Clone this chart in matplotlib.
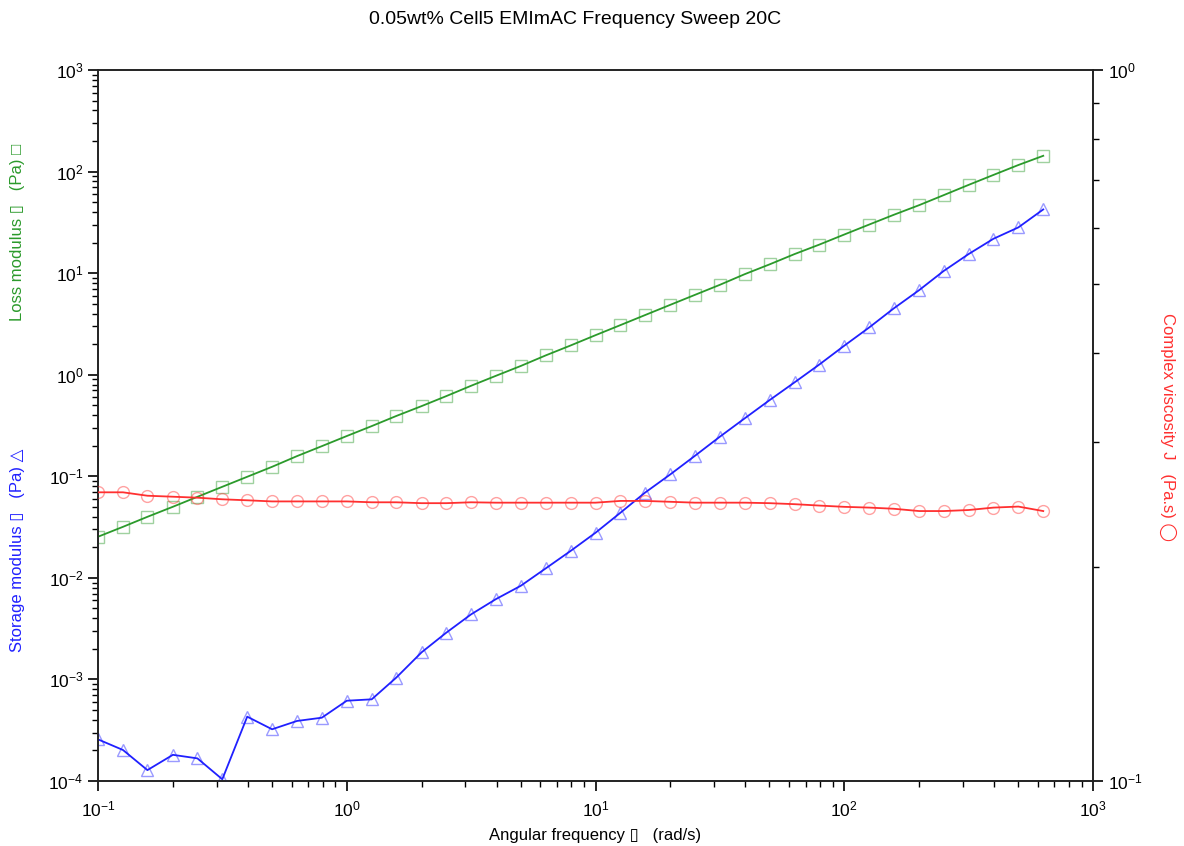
import matplotlib
matplotlib.use("Agg")
import matplotlib.pyplot as plt
from matplotlib.ticker import NullFormatter, LogLocator

plt.rcParams['font.family'] = ['Liberation Sans', 'DejaVu Sans']

# angular frequency (rad/s)
freq = [0.1, 0.126, 0.158, 0.2, 0.251, 0.316, 0.398, 0.501, 0.631, 0.794,
        1.0, 1.26, 1.58, 2.0, 2.51, 3.16, 3.98, 5.01, 6.31, 7.94,
        10.0, 12.6, 15.8, 20.0, 25.1, 31.6, 39.8, 50.1, 63.1, 79.4,
        100.0, 126.0, 158.0, 200.0, 251.0, 316.0, 398.0, 501.0, 631.0]

# loss modulus G'' (Pa)
loss_mod = [0.0254, 0.0318, 0.0399, 0.0501, 0.0628, 0.0788, 0.0989, 0.124, 0.158, 0.198,
            0.249, 0.312, 0.392, 0.491, 0.615, 0.778, 0.976, 1.22, 1.55, 1.94,
            2.45, 3.08, 3.86, 4.88, 6.11, 7.67, 9.77, 12.2, 15.4, 19.1,
            24.0, 30.1, 37.5, 46.7, 58.6, 73.9, 92.7, 116.0, 143.0]

# storage modulus G' (Pa)
storage_mod = [2.57e-4, 2.02e-4, 1.28e-4, 1.81e-4, 1.67e-4, 1.04e-4, 4.3e-4, 3.23e-4, 3.9e-4, 4.2e-4,
               6.17e-4, 6.37e-4, 1.04e-3, 1.85e-3, 2.88e-3, 4.37e-3, 6.18e-3, 8.36e-3, 1.24e-2, 1.84e-2,
               2.78e-2, 4.38e-2, 6.89e-2, 0.1045, 0.159, 0.245, 0.372, 0.562, 0.84, 1.26,
               1.93, 2.92, 4.49, 6.8, 10.5, 15.4, 21.8, 28.2, 42.4]

# complex viscosity (Pa.s)
viscosity = [0.2547, 0.2547, 0.2519, 0.2511, 0.2503, 0.249, 0.2482, 0.2473, 0.2473, 0.2473,
             0.2473, 0.2466, 0.2466, 0.2459, 0.2459, 0.2466, 0.2463, 0.2463, 0.2463, 0.2463,
             0.2463, 0.2477, 0.2477, 0.247, 0.2463, 0.2463, 0.2463, 0.2459, 0.2451, 0.244,
             0.243, 0.2424, 0.2415, 0.2397, 0.2397, 0.2405, 0.2424, 0.2432, 0.2397]

green = '#2b9a2b'
blue = '#2020ff'
red = '#ff3030'

fig = plt.figure(figsize=(11.84, 8.46), dpi=100)
ax = fig.add_axes([98/1184, 1 - 781/846, (1093 - 98)/1184, (781 - 70)/846])
ax2 = ax.twinx()

ax.plot(freq, loss_mod, color=green, lw=1.3, zorder=3)
ax.plot(freq, loss_mod, ls='none', marker='s', ms=8, mfc='none', mec=green, mew=1.0, alpha=0.45, zorder=4)
ax.plot(freq, storage_mod, color=blue, lw=1.3, zorder=3)
ax.plot(freq, storage_mod, ls='none', marker='^', ms=8.5, mfc='none', mec=blue, mew=1.0, alpha=0.45, zorder=4)
ax2.plot(freq, viscosity, color=red, lw=1.3, zorder=3)
ax2.plot(freq, viscosity, ls='none', marker='o', ms=8.5, mfc='none', mec=red, mew=1.0, alpha=0.45, zorder=4)

ax.set_xscale('log')
ax.set_yscale('log')
ax2.set_yscale('log')
ax.set_xlim(0.1, 1000)
ax.set_ylim(1e-4, 1e3)
ax2.set_ylim(0.1, 1)
ax2.yaxis.set_major_locator(LogLocator(base=10))
ax2.yaxis.set_minor_locator(LogLocator(base=10, subs=range(2, 10)))
ax2.yaxis.set_minor_formatter(NullFormatter())
ax.xaxis.set_minor_formatter(NullFormatter())
ax.yaxis.set_minor_formatter(NullFormatter())

for a in (ax, ax2):
    for s in a.spines.values():
        s.set_linewidth(1.2)
        s.set_color('#222222')
    a.tick_params(which='both', direction='out', labelsize=12.5)
    a.tick_params(which='major', length=7, width=1.2)
    a.tick_params(which='minor', length=4, width=1.0)
ax.tick_params(axis='x', top=False, pad=6)
ax.tick_params(axis='y', right=False)
ax2.tick_params(axis='y', right=True, left=False)

fig.text(575/1184, 1 - 20/846, '0.05wt% Cell5 EMImAC Frequency Sweep 20C',
         ha='center', va='center', fontsize=14)
fig.text(595/1184, 1 - 835/846, 'Angular frequency \u25af   (rad/s)', ha='center', va='center', fontsize=12)
fig.text(18/1184, 1 - 232/846, 'Loss modulus \u25af   (Pa) \u25a1', color=green,
         rotation=90, ha='center', va='center', fontsize=12)
fig.text(18/1184, 1 - 550/846, 'Storage modulus \u25af   (Pa) \u25b3', color=blue,
         rotation=90, ha='center', va='center', fontsize=12)
fig.text(1168/1184, 1 - 427/846, 'Complex viscosity J   (Pa.s) \u25ef', color=red,
         rotation=270, ha='center', va='center', fontsize=12)

fig.savefig('out.png', dpi=100)
